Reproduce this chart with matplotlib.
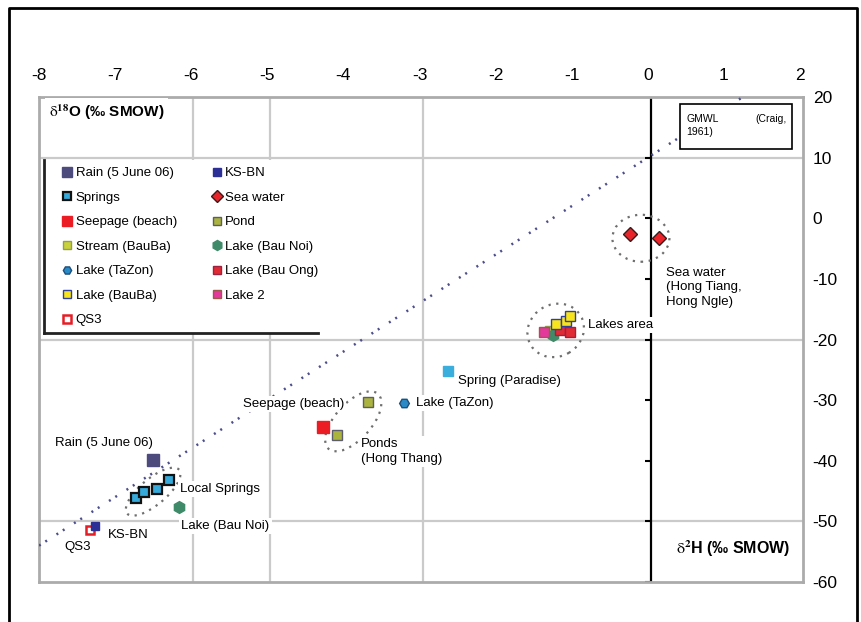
import numpy as np
import matplotlib
matplotlib.use("Agg")
import matplotlib.pyplot as plt
from matplotlib.patches import Ellipse, Rectangle
from matplotlib.lines import Line2D
from matplotlib import transforms

plt.rcParams['font.family'] = ['Liberation Sans', 'DejaVu Sans']
plt.rcParams['mathtext.fontset'] = 'stix'

# ---- data (delta18O, delta2H) ----
gmwl_x = [-8.0, 1.25]
gmwl_y = [-54.0, 20.0]

rain_x = [-6.50]
rain_y = [-39.8]
springs_x = [-6.73, -6.62, -6.45, -6.29]
springs_y = [-46.1, -45.1, -44.7, -43.1]
paradise_x = [-2.63]
paradise_y = [-25.2]
seepage_x = [-4.27]
seepage_y = [-34.5]
stream_x = [-1.30]
stream_y = [-18.4]
tazon_x = [-3.20]
tazon_y = [-30.5]
lake_bauba_x = [-1.20, -1.08, -1.02]
lake_bauba_y = [-17.5, -16.9, -16.1]
qs3_x = [-7.33]
qs3_y = [-51.4]
ksbn_x = [-7.26]
ksbn_y = [-50.8]
sea_x = [-0.24, 0.15]
sea_y = [-2.6, -3.3]
pond_x = [-4.09, -3.67]
pond_y = [-35.7, -30.3]
bau_noi_x = [-6.16, -1.25]
bau_noi_y = [-47.7, -19.2]
bau_ong_x = [-1.15, -1.02]
bau_ong_y = [-18.5, -18.7]
lake2_x = [-1.37]
lake2_y = [-18.8]

x_ticks = [-8, -7, -6, -5, -4, -3, -2, -1, 0, 1, 2]
y_ticks = [20, 10, 0, -10, -20, -30, -40, -50, -60]
grid_y = [10, -20, -50]
grid_x = [-5.97, -4.96, -2.96]

fig = plt.figure(figsize=(8.61, 6.22), dpi=100)
W, H = 861.0, 622.0
ax = fig.add_axes([39 / W, 1 - 582 / H, (803 - 39) / W, (582 - 97) / H])
ax.set_xlim(-7.99, 2.04)
ax.set_ylim(-60, 20)

for s in ax.spines.values():
    s.set_color('#ababab')
    s.set_linewidth(2)
ax.xaxis.tick_top()
ax.yaxis.tick_right()
ax.set_xticks(x_ticks)
ax.set_yticks(y_ticks)
ax.set_xticklabels([str(v) for v in x_ticks])
ax.set_yticklabels([str(v) for v in y_ticks], ha='left')
ax.tick_params(axis='x', length=0, pad=10, labelsize=12.5)
ax.tick_params(axis='y', length=0, pad=7, labelsize=12.5)

for g in grid_y:
    ax.axhline(g, color='#cacaca', lw=1.6, zorder=0)
for g in grid_x:
    ax.axvline(g, color='#cacaca', lw=1.6, zorder=0)

# black axis line at zero with small ticks
ax.plot([0.04, 0.04], [-60, 20], color='black', lw=1.6, zorder=2)
ax.plot([0.04] * len(y_ticks), y_ticks, ls='none', marker=0, ms=4, mew=1.5, color='black', zorder=2)

# GMWL
ax.plot(gmwl_x, gmwl_y, color='#4d4d8c', lw=1.8, ls=(0, (0.8, 2.2, 0.8, 4.5)), zorder=3)

# dotted rings around groups (size in inches, centred on data point)
def ring(cx, cy, w, h, ang):
    tr = fig.dpi_scale_trans + transforms.ScaledTranslation(cx, cy, ax.transData)
    e = Ellipse((0, 0), w, h, angle=ang, transform=tr, fill=False,
                ec='#6f6f6f', lw=1.6, ls=(0, (1, 2.5)), zorder=3)
    ax.add_artist(e)

ring(-0.09, -3.3, 0.57, 0.47, 0)
ring(-1.21, -18.5, 0.58, 0.52, 30)
ring(-3.87, -33.5, 0.74, 0.36, 48)
ring(-6.50, -45.1, 0.68, 0.26, 40)

z = 5
h_rain, = ax.plot(rain_x, rain_y, 's', ms=8, color='#4d4b7d', zorder=z, label='Rain (5 June 06)')
h_spr, = ax.plot(springs_x, springs_y, 's', ms=7, mfc='#35a9d9', mec='#111111', mew=1.6, zorder=z, label='Springs')
ax.plot(paradise_x, paradise_y, 's', ms=6.5, color='#3aaedc', zorder=z)
h_see, = ax.plot(seepage_x, seepage_y, 's', ms=8.5, color='#ec1c24', zorder=z, label='Seepage (beach)')
h_str, = ax.plot(stream_x, stream_y, 's', ms=6, mfc='#c9d23a', mec='#8fa050', zorder=z, label='Stream (BauBa)')
h_taz, = ax.plot(tazon_x, tazon_y, 'H', ms=7, mfc='#2a8ac6', mec='#1d4f7a', zorder=z, label='Lake (TaZon)')
h_lbb, = ax.plot(lake_bauba_x, lake_bauba_y, 's', ms=6.5, mfc='#f7e41b', mec='#3040a0', mew=1, zorder=z + 1, label='Lake (BauBa)')
h_qs3, = ax.plot(qs3_x, qs3_y, 's', ms=6, mfc='white', mec='#e41e26', mew=1.8, zorder=z, label='QS3')
h_ks, = ax.plot(ksbn_x, ksbn_y, 's', ms=6, color='#2c2f96', zorder=z + 1, label='KS-BN')
h_sea, = ax.plot(sea_x, sea_y, 'D', ms=7, mfc='#e9242a', mec='#3a1a1a', mew=1, zorder=z, label='Sea water')
h_pond, = ax.plot(pond_x, pond_y, 's', ms=7.5, mfc='#aab43e', mec='#5c5c6c', mew=1, zorder=z, label='Pond')
h_noi, = ax.plot(bau_noi_x, bau_noi_y, 'h', ms=8.5, color='#3f8a68', zorder=z, label='Lake (Bau Noi)')
h_ong, = ax.plot(bau_ong_x, bau_ong_y, 's', ms=7, mfc='#e02a34', mec='#a02040', zorder=z, label='Lake (Bau Ong)')
h_l2, = ax.plot(lake2_x, lake2_y, 's', ms=6.5, mfc='#e4389c', mec='#9a5a4a', zorder=z, label='Lake 2')

# annotations
fs = 9.5
wb = dict(facecolor='white', edgecolor='none', pad=1.5)
def lab(x, y, s, **kw):
    ax.text(x, y, s, fontsize=fs, va='center', ha='left', bbox=wb, zorder=4, **kw)

lab(-7.79, -37.1, 'Rain (5 June 06)')
lab(-6.15, -44.6, 'Local Springs')
lab(-6.13, -50.7, 'Lake (Bau Noi)')
lab(-7.09, -52.2, 'KS-BN')
lab(-7.67, -54.2, 'QS3')
lab(-5.32, -30.7, 'Seepage (beach)')
lab(-3.77, -38.5, 'Ponds\n(Hong Thang)', linespacing=1.3)
lab(-3.05, -30.5, 'Lake (TaZon)')
lab(-2.50, -26.9, 'Spring (Paradise)')
lab(-0.78, -17.6, 'Lakes area')
lab(0.24, -11.4, 'Sea water\n(Hong Tiang,\nHong Ngle)', linespacing=1.3)

ax.text(-7.87, 17.5, r'$\mathrm{\delta}^{\mathbf{18}}$O (‰ SMOW)', fontsize=11, fontweight='bold',
        va='center', ha='left', bbox=dict(facecolor='white', edgecolor='none', pad=3), zorder=4)
ax.text(0.37, -54.5, r'$\mathrm{\delta}^{\mathbf{2}}$H (‰ SMOW)', fontsize=11.5, fontweight='bold',
        va='center', ha='left', bbox=dict(facecolor='white', edgecolor='none', pad=4), zorder=4)

# GMWL box
ax.add_patch(Rectangle((0.425, 11.4), 1.47, 7.45, facecolor='white', edgecolor='black', lw=1.2, zorder=6))
ax.text(0.51, 16.3, 'GMWL', fontsize=7.5, va='center', ha='left', zorder=7)
ax.text(1.82, 16.3, '(Craig,', fontsize=7.5, va='center', ha='right', zorder=7)
ax.text(0.51, 14.3, '1961)', fontsize=7.5, va='center', ha='left', zorder=7)

# legend with white background and dark left / bottom edges
bg = Rectangle((44 / W, 1 - 333 / H), (318 - 44) / W, (333 - 160) / H, transform=fig.transFigure,
               facecolor='white', edgecolor='none', zorder=3)
ax.add_patch(bg)
bg.set_clip_on(False)
fig.add_artist(Line2D([44 / W, 44 / W], [1 - 160 / H, 1 - 333 / H], color='#222222', lw=2))
fig.add_artist(Line2D([44 / W, 318 / W], [1 - 333 / H, 1 - 333 / H], color='#222222', lw=2))

handles = [h_rain, h_spr, h_see, h_str, h_taz, h_lbb, h_qs3,
           h_ks, h_sea, h_pond, h_noi, h_ong, h_l2]
leg = ax.legend(handles, [h.get_label() for h in handles], ncol=2, loc='upper left',
                bbox_to_anchor=(62 / W, 1 - 167 / H), bbox_transform=fig.transFigure,
                frameon=False, fontsize=fs, handlelength=0.8, handletextpad=0.25,
                labelspacing=0.93, columnspacing=2.6, borderpad=0, borderaxespad=0,
                markerscale=0.85)
leg.set_zorder(8)

# outer frame
fig.add_artist(Line2D([9 / W, 9 / W, 857 / W, 857 / W], [0, 1 - 8 / H, 1 - 8 / H, 0], color='black', lw=2))

fig.savefig('out.png', dpi=100)
